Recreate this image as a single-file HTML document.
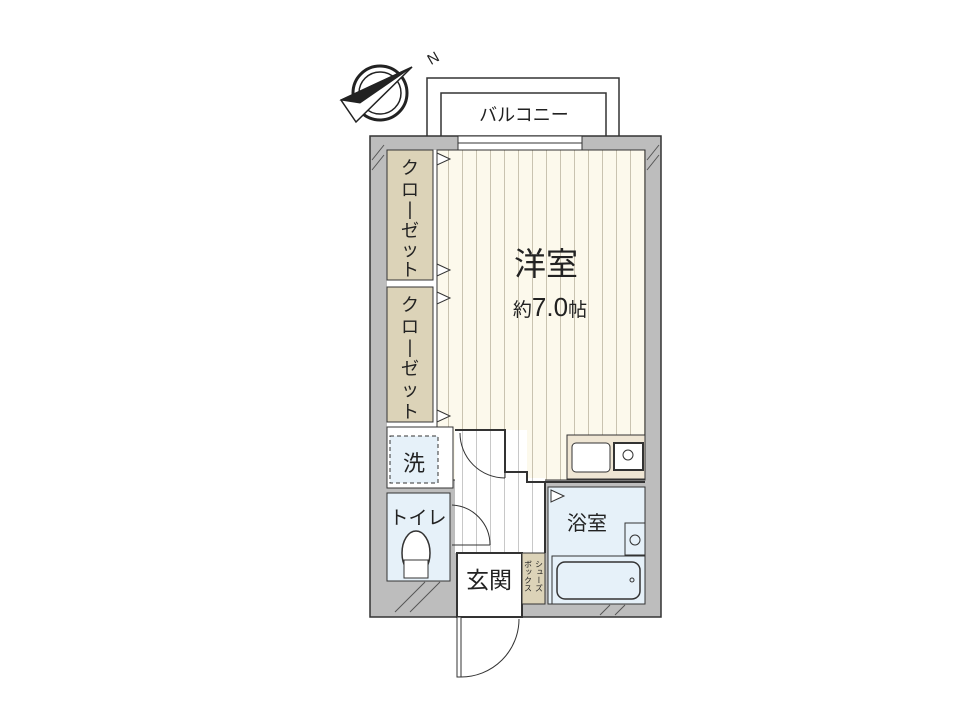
<!DOCTYPE html>
<html><head><meta charset="utf-8"><style>
html,body{margin:0;padding:0;background:#fff;}
svg{display:block;}
text{font-family:"Liberation Sans","Noto Sans CJK JP",sans-serif;fill:#222;}
</style></head><body>
<svg width="960" height="720" viewBox="0 0 960 720" xmlns="http://www.w3.org/2000/svg">
<defs>
<pattern id="st" width="14" height="10" patternUnits="userSpaceOnUse">
<rect width="14" height="10" fill="#fcf9ec"/><line x1="0.5" y1="0" x2="0.5" y2="10" stroke="#c9c3b0" stroke-width="1"/></pattern>
<pattern id="st2" width="14" height="10" patternUnits="userSpaceOnUse">
<rect width="14" height="10" fill="#fff"/><line x1="0.5" y1="0" x2="0.5" y2="10" stroke="#c8c8c8" stroke-width="1"/></pattern>
</defs>
<!-- balcony -->
<rect x="427" y="78" width="192" height="60" fill="#fff" stroke="#333" stroke-width="1.5"/>
<rect x="441" y="93" width="165" height="45" fill="#fff" stroke="#333" stroke-width="1.5"/>
<text x="524" y="121" font-size="18" text-anchor="middle">バルコニー</text>
<!-- compass -->
<g stroke="#222" fill="none">
<circle cx="380" cy="93" r="27" stroke-width="3"/>
<circle cx="380" cy="93" r="21" stroke-width="1.5"/>
<polygon points="412,67 341,100 356,122" fill="#fff" stroke-width="1.5"/>
<polygon points="412,67 341,100 360,103" fill="#222" stroke-width="1"/>
</g>
<text x="428" y="66" font-size="15" transform="rotate(-30 428 60)">N</text>
<!-- outer walls -->
<rect x="370" y="136" width="291" height="481" fill="#bdbdbd" stroke="#333" stroke-width="1.5"/>
<!-- window -->
<rect x="458" y="136" width="124" height="14" fill="#fff" stroke="#333" stroke-width="1"/>
<line x1="458" y1="143" x2="582" y2="143" stroke="#333"/>
<!-- western room -->
<rect x="387" y="150" width="258" height="278" fill="#fff"/>
<rect x="437" y="150" width="208" height="330" fill="url(#st)" stroke="#333" stroke-width="1"/>
<!-- closets -->
<rect x="387" y="150" width="46" height="130" fill="#dcd3b8" stroke="#333"/>
<rect x="387" y="287" width="46" height="135" fill="#dcd3b8" stroke="#333"/>
<g stroke="#333" fill="#fff"><polygon points="437,153 450,159 437,165"/><polygon points="437,264 450,270 437,276"/><polygon points="437,292 450,298 437,304"/><polygon points="437,410 450,416 437,422"/></g>
<g font-size="18" text-anchor="middle">
<text x="410" y="174">ク</text><text x="410" y="196">ロ</text><text x="410" y="215">|</text><text x="410" y="237">ゼ</text><text x="410" y="256">ッ</text><text x="410" y="276">ト</text>
<text x="410" y="311">ク</text><text x="410" y="333">ロ</text><text x="410" y="353">|</text><text x="410" y="375">ゼ</text><text x="410" y="396">ッ</text><text x="410" y="418">ト</text>
</g>
<text x="546" y="275" font-size="32" text-anchor="middle">洋室</text>
<text x="550" y="316" font-size="26" text-anchor="middle"><tspan font-size="19">約</tspan>7.0<tspan font-size="19">帖</tspan></text>
<!-- kitchen -->
<rect x="567" y="435" width="78" height="44" fill="#efe6d4" stroke="#333"/>
<rect x="572" y="443" width="38" height="29" rx="4" fill="#fff" stroke="#333"/>
<rect x="614" y="443" width="29" height="27" fill="#fff" stroke="#333" stroke-width="2"/>
<circle cx="628" cy="455" r="5" fill="none" stroke="#333"/>
<!-- hallway -->
<rect x="455" y="430" width="72" height="123" fill="url(#st2)"/>
<rect x="505" y="478" width="40" height="75" fill="url(#st2)"/>
<polyline points="455,430 505,430 505,472 527,472 527,482 645,482" fill="none" stroke="#333" stroke-width="2"/>
<line x1="545" y1="482" x2="545" y2="553" stroke="#333" stroke-width="2"/>
<path d="M460,433 A45,45 0 0 0 505,478" fill="none" stroke="#333"/>
<line x1="505" y1="433" x2="505" y2="478" stroke="#333"/>
<!-- laundry -->
<rect x="387" y="427" width="66" height="61" fill="#fff" stroke="#333"/>
<rect x="390" y="436" width="48" height="47" fill="#e6f1f9" stroke="#333" stroke-dasharray="4,3"/>
<text x="414" y="471" font-size="22" text-anchor="middle">洗</text>
<!-- toilet -->
<rect x="387" y="493" width="63" height="88" fill="#e6f1f9" stroke="#333"/>
<text x="418" y="524" font-size="19" text-anchor="middle">トイレ</text>
<ellipse cx="416" cy="553" rx="14" ry="22" fill="#fff" stroke="#333" stroke-width="1.5"/>
<rect x="404" y="560" width="24" height="18" fill="#fff" stroke="#333"/>
<path d="M452,505 A40,40 0 0 1 490,545" fill="none" stroke="#333"/>
<line x1="452" y1="545" x2="490" y2="545" stroke="#333"/>
<!-- bath -->
<rect x="548" y="487" width="97" height="117" fill="#e6f1f9" stroke="#333"/>
<polygon points="551,490 564,496 551,502" fill="#fff" stroke="#333"/>
<text x="587" y="530" font-size="20" text-anchor="middle">浴室</text>
<rect x="625" y="523" width="20" height="32" fill="#e6f1f9" stroke="#333"/>
<circle cx="635" cy="540" r="5" fill="none" stroke="#333"/>
<rect x="552" y="556" width="93" height="48" fill="#e6f1f9" stroke="#333"/>
<rect x="557" y="562" width="83" height="37" rx="8" fill="#e6f1f9" stroke="#333" stroke-width="1.5"/>
<circle cx="632" cy="580" r="2" fill="none" stroke="#333"/>
<!-- genkan -->
<rect x="457" y="553" width="65" height="64" fill="#fff" stroke="#333" stroke-width="2"/>
<text x="489" y="588" font-size="23" text-anchor="middle">玄関</text>
<rect x="522" y="553" width="23" height="51" fill="#dcd3b8" stroke="#333"/>
<text x="539" y="560" font-size="8" writing-mode="tb">シューズ</text>
<text x="528" y="560" font-size="8" writing-mode="tb">ボックス</text>
<!-- hatch hints -->
<g stroke="#555" stroke-width="1">
<line x1="372" y1="160" x2="384" y2="145"/><line x1="372" y1="170" x2="384" y2="155"/>
<line x1="647" y1="160" x2="659" y2="145"/><line x1="647" y1="170" x2="659" y2="155"/>
<line x1="395" y1="612" x2="425" y2="582"/><line x1="410" y1="612" x2="440" y2="582"/>
<line x1="600" y1="615" x2="610" y2="605"/><line x1="615" y1="615" x2="625" y2="605"/>
</g>
<!-- entrance door -->
<rect x="457" y="617" width="4" height="60" fill="#fff" stroke="#333"/>
<path d="M461,677 A58,58 0 0 0 519,619" fill="none" stroke="#333"/>
</svg>
</body></html>
